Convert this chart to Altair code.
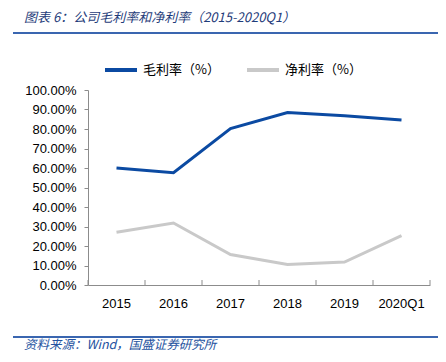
import altair as alt
import pandas as pd

years = ["2015", "2016", "2017", "2018", "2019", "2020Q1"]
gross = [60.0, 57.6, 80.2, 88.4, 86.8, 84.6]
net = [27.0, 31.8, 15.6, 10.5, 11.8, 25.3]
series_names = ["毛利率（%）", "净利率（%）"]
colors = ["#0B4AA2", "#C9C9C9"]
title_text = "图表 6：公司毛利率和净利率（2015-2020Q1）"
source_text = "资料来源：Wind，国盛证券研究所"

rows = []
for i, y in enumerate(years):
    rows.append({"year": y, "series": series_names[0], "value": gross[i] / 100})
    rows.append({"year": y, "series": series_names[1], "value": net[i] / 100})
df = pd.DataFrame(rows)
ydf = pd.DataFrame({"year": years})

xscale = alt.Scale(type="band", paddingInner=0, paddingOuter=0, domain=years)
xaxis = alt.Axis(title=None, labelAngle=0, ticks=False, bandPosition=0.5,
                 labelPadding=12, domainColor="#8C8C8C",
                 labelFont="Liberation Sans", labelFontSize=13, labelColor="#000000",
                 grid=False)

lines = alt.Chart(df).mark_line(strokeWidth=3).encode(
    x=alt.X("year:N", sort=years, bandPosition=0.5, scale=xscale, axis=xaxis),
    y=alt.Y("value:Q", scale=alt.Scale(domain=[0, 1]),
            axis=alt.Axis(title=None, values=[i / 10 for i in range(11)], format=".2%",
                          tickSize=4, labelPadding=8, domainColor="#8C8C8C", tickColor="#8C8C8C",
                          labelFont="Liberation Sans", labelFontSize=13, labelColor="#000000",
                          grid=False)),
    color=alt.Color("series:N", sort=series_names,
                    scale=alt.Scale(domain=series_names, range=colors),
                    legend=alt.Legend(title=None, orient="none", direction="horizontal",
                                      legendX=15, legendY=-38, symbolType="stroke",
                                      symbolSize=1024, symbolStrokeWidth=4, labelOffset=4,
                                      columnPadding=19, labelFont="Noto Sans CJK SC",
                                      labelFontSize=13, labelColor="#000000")),
)

ticks_start = alt.Chart(ydf).mark_rule(color="#8C8C8C", strokeWidth=1).encode(
    x=alt.X("year:N", sort=years, bandPosition=0, scale=xscale, axis=xaxis),
    y=alt.value(195), y2=alt.value(190))
ticks_end = alt.Chart(ydf.tail(1)).mark_rule(color="#8C8C8C", strokeWidth=1).encode(
    x=alt.X("year:N", sort=years, bandPosition=1, scale=xscale, axis=xaxis),
    y=alt.value(195), y2=alt.value(190))

title = alt.Chart(pd.DataFrame({"t": [title_text]})).mark_text(
    align="left", baseline="middle", font="Noto Sans CJK SC", fontSize=13,
    fontStyle="italic", color="#1F3C7A"
).encode(text="t:N", x=alt.value(-64), y=alt.value(-72))

footer = alt.Chart(pd.DataFrame({"t": [source_text]})).mark_text(
    align="left", baseline="middle", font="Noto Sans CJK SC", fontSize=12.5,
    fontStyle="italic", color="#2452A0"
).encode(text="t:N", x=alt.value(-64), y=alt.value(255))

top_rule = alt.Chart(pd.DataFrame({"a": [0]})).mark_rule(color="#3A66B0", strokeWidth=2).encode(
    x=alt.value(-75), x2=alt.value(351), y=alt.value(-57))
bottom_rule = alt.Chart(pd.DataFrame({"a": [0]})).mark_rule(color="#3A66B0", strokeWidth=2).encode(
    x=alt.value(-75), x2=alt.value(351), y=alt.value(247))

chart = alt.layer(lines, ticks_start, ticks_end, title, footer, top_rule, bottom_rule).properties(
    width=342, height=195,
    autosize=alt.AutoSizeParams(type="none"),
    padding={"left": 80, "top": 82, "right": 8, "bottom": 69},
).configure_view(stroke=None)

chart.save("out.html", embed_options={"renderer": "svg", "actions": False})
